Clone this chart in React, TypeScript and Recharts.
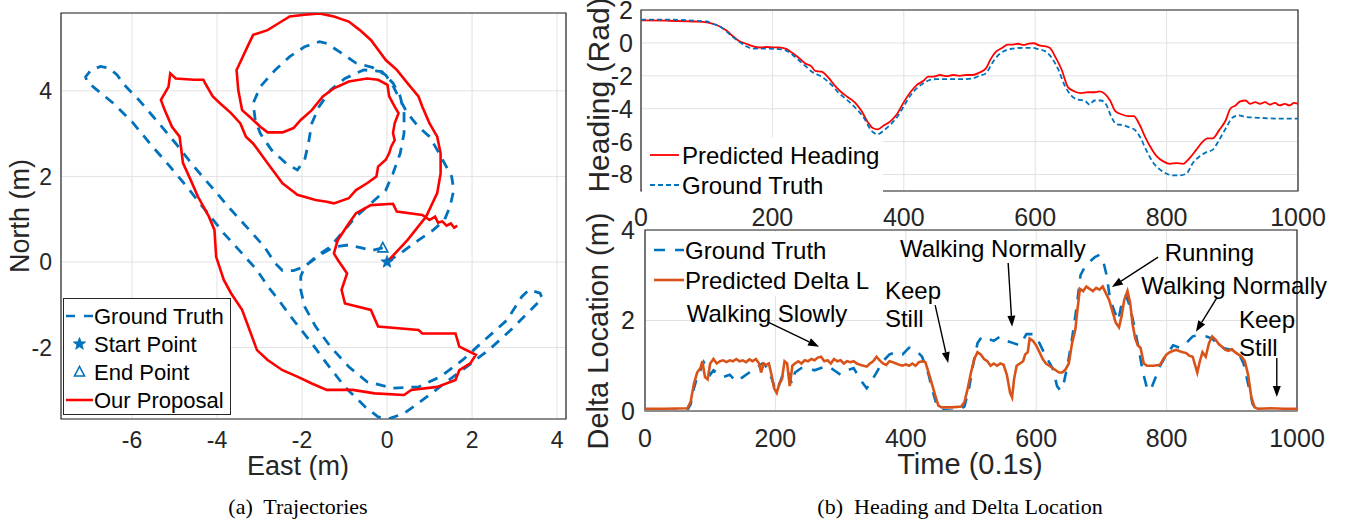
import React from "react";
import {
  ComposedChart,
  Line,
  Scatter,
  XAxis,
  YAxis,
  CartesianGrid,
  Legend,
  ReferenceArea,
  ReferenceLine,
  ReferenceDot,
  Label,
} from "recharts";

type Pair = [number, number];

// ---- (a) trajectories, east / north in metres ----
const groundTruthPath: Pair[] = [
  [0, 0], [0.31, 0.2], [0.74, 0.51], [1.09, 0.75], [1.35, 0.98], [1.48, 1.29], [1.57, 1.68],
  [1.52, 2.0], [1.35, 2.31], [1.18, 2.62], [1.0, 2.93], [0.74, 3.16], [0.48, 3.48], [0.3, 3.8],
  [0.15, 4.1], [-0.03, 4.37], [-0.35, 4.55], [-0.73, 4.65], [-1.07, 4.88], [-1.42, 5.11],
  [-1.59, 5.15], [-1.94, 5.03], [-2.29, 4.8], [-2.63, 4.49], [-2.98, 4.1], [-3.15, 3.71],
  [-3.1, 3.32], [-2.98, 3.0], [-2.72, 2.62], [-2.37, 2.3], [-2.11, 2.15], [-1.94, 2.38],
  [-1.85, 2.77], [-1.77, 3.24], [-1.6, 3.63], [-1.33, 4.02], [-0.99, 4.29], [-0.55, 4.49],
  [-0.12, 4.45], [0.14, 4.18], [0.31, 3.87], [0.4, 3.48], [0.4, 3.01], [0.31, 2.54],
  [0.14, 2.07], [-0.03, 1.68], [-0.38, 1.37], [-0.73, 1.06], [-1.07, 0.67], [-1.33, 0.36],
  [-1.68, 0.12], [-1.94, -0.11], [-2.03, -0.34], [-2.03, -0.65], [-1.94, -1.04], [-1.68, -1.51],
  [-1.33, -1.98], [-0.9, -2.45], [-0.47, -2.8], [0.14, -2.95], [0.74, -2.92], [1.26, -2.68],
  [1.78, -2.29], [2.3, -1.82], [2.82, -1.36], [3.17, -0.81], [3.34, -0.65], [3.6, -0.73],
  [3.65, -0.85], [3.34, -1.16], [2.91, -1.59], [2.39, -2.06], [1.87, -2.45], [1.35, -2.84],
  [0.83, -3.23], [0.4, -3.54], [0.05, -3.66], [-0.21, -3.62], [-0.5, -3.4], [-0.99, -2.92],
  [-1.42, -2.37], [-1.77, -1.9], [-2.2, -1.36], [-2.55, -0.89], [-2.81, -0.56], [-3.06, -0.19],
  [-3.41, 0.2], [-3.84, 0.67], [-4.28, 1.22], [-4.71, 1.76], [-5.14, 2.27], [-5.58, 2.77],
  [-6.0, 3.28], [-6.44, 3.71], [-6.87, 4.06], [-7.06, 4.22], [-7.09, 4.33], [-6.96, 4.49],
  [-6.74, 4.57], [-6.53, 4.53], [-6.35, 4.37], [-6.18, 4.14], [-5.84, 3.79], [-5.4, 3.28],
  [-4.97, 2.77], [-4.54, 2.23], [-4.1, 1.72], [-3.67, 1.22], [-3.24, 0.75], [-2.89, 0.36],
  [-2.63, -0.03], [-2.46, -0.2], [-2.2, -0.2], [-1.94, -0.11], [-1.6, 0.15], [-1.25, 0.35],
  [-0.9, 0.4], [-0.6, 0.33], [-0.35, 0.27], [-0.1, 0.33],
];

const proposalPath: Pair[] = [
  [0, 0], [0.48, 0.51], [0.92, 1.06], [1.18, 1.61], [1.26, 2.07], [1.26, 2.54], [1.18, 2.93],
  [1.0, 3.24], [0.83, 3.63], [0.74, 3.87], [0.48, 4.18], [0.23, 4.49], [-0.03, 4.72],
  [-0.38, 5.19], [-0.64, 5.42], [-0.9, 5.62], [-1.25, 5.74], [-1.59, 5.81], [-1.94, 5.78],
  [-2.29, 5.74], [-2.55, 5.58], [-2.81, 5.42], [-3.15, 5.31], [-3.28, 5.04], [-3.5, 4.57],
  [-3.54, 4.49], [-3.5, 4.02], [-3.41, 3.55], [-3.24, 3.4], [-2.98, 3.16], [-2.81, 3.03],
  [-2.46, 3.03], [-2.2, 3.13], [-2.03, 3.32], [-1.77, 3.55], [-1.51, 3.87], [-1.25, 4.06],
  [-0.9, 4.22], [-0.47, 4.29], [-0.21, 4.26], [0.01, 4.14], [0.05, 3.87], [0.18, 3.63],
  [0.27, 3.48], [0.18, 3.24], [0.14, 3.01], [0.18, 2.85], [0.1, 2.7], [0.05, 2.54],
  [-0.03, 2.39], [-0.21, 2.23], [-0.25, 2.0], [-0.47, 1.84], [-0.73, 1.68], [-0.9, 1.49],
  [-1.25, 1.37], [-1.42, 1.41], [-1.68, 1.45], [-2.11, 1.57], [-2.2, 1.64], [-2.46, 1.84],
  [-2.63, 2.07], [-2.81, 2.31], [-2.98, 2.54], [-3.15, 2.77], [-3.32, 2.93], [-3.45, 3.24],
  [-3.67, 3.48], [-3.93, 3.71], [-4.1, 3.87], [-4.28, 4.18], [-4.32, 4.26], [-4.54, 4.26],
  [-4.97, 4.29], [-5.1, 4.41], [-5.14, 4.1], [-5.23, 3.94], [-5.32, 3.79], [-5.23, 3.55],
  [-5.06, 3.16], [-4.88, 2.93], [-4.8, 2.31], [-4.62, 1.92], [-4.45, 1.53], [-4.19, 1.06],
  [-4.06, 0.75], [-4.02, 0.12], [-3.84, -0.42], [-3.67, -0.73], [-3.41, -1.12], [-3.06, -2.06],
  [-2.81, -2.29], [-2.46, -2.53], [-2.11, -2.68], [-1.77, -2.84], [-1.42, -2.99], [-0.81, -2.99],
  [-0.29, -3.07], [0.4, -3.11], [0.57, -2.99], [1.18, -2.92], [1.61, -2.76], [1.7, -2.53],
  [1.96, -2.37], [2.09, -2.17], [1.7, -1.98], [1.61, -1.67], [0.83, -1.67], [0.74, -1.59],
  [-0.21, -1.51], [-0.38, -1.12], [-0.99, -0.97], [-1.07, -0.65], [-0.94, -0.27], [-1.16, 0.05],
  [-1.25, 0.2], [-1.16, 0.51], [-0.9, 0.9], [-0.73, 1.14], [-0.38, 1.33], [0.14, 1.36],
  [0.23, 1.18], [0.83, 1.1], [1.0, 0.98], [1.13, 1.06], [1.2, 0.92], [1.3, 0.95], [1.4, 0.85],
  [1.5, 0.9], [1.58, 0.8], [1.65, 0.85],
];

const startPoint: Pair = [0, 0];
const endPoint: Pair = [-0.1, 0.33];

const eastTicks = [-6, -4, -2, 0, 2, 4];
const northTicks = [-2, 0, 2, 4];

// ---- (b) heading (rad) over time (0.1 s) ----
const headingPredicted: Pair[] = [
  [0, 1.37], [40, 1.35], [80, 1.3], [100, 1.25], [110, 1.15], [120, 1.0], [130, 0.75], [140, 0.4],
  [150, 0.1], [160, -0.05], [170, -0.2], [180, -0.28], [190, -0.25], [200, -0.27], [210, -0.28],
  [220, -0.35], [230, -0.6], [240, -0.9], [250, -1.25], [260, -1.45], [265, -1.7], [275, -1.75],
  [285, -2.1], [295, -2.6], [305, -3.0], [315, -3.3], [325, -3.6], [335, -4.1], [345, -4.8],
  [352, -5.15], [360, -5.25], [370, -5.0], [380, -4.75], [390, -4.3], [400, -3.6], [410, -3.0],
  [420, -2.55], [430, -2.3], [437, -2.05], [445, -2.05], [455, -1.95], [465, -2.02], [475, -1.95],
  [485, -2.0], [495, -1.95], [505, -1.95], [515, -1.8], [525, -1.55], [532, -1.0], [540, -0.55],
  [550, -0.3], [558, -0.1], [566, -0.1], [574, -0.05], [582, -0.12], [590, -0.05], [598, -0.02],
  [606, -0.15], [614, -0.2], [622, -0.3], [630, -0.8], [640, -1.6], [650, -2.7], [660, -2.95],
  [670, -3.05], [680, -3.0], [690, -3.0], [698, -2.95], [706, -3.1], [714, -3.5], [722, -4.15],
  [732, -4.35], [742, -4.45], [750, -4.45], [758, -4.9], [766, -5.6], [775, -6.3], [785, -6.9],
  [795, -7.2], [805, -7.35], [815, -7.3], [825, -7.35], [835, -7.0], [845, -6.5], [855, -6.0],
  [862, -5.8], [870, -5.8], [880, -5.3], [890, -4.7], [897, -4.0], [905, -3.8], [912, -3.55],
  [920, -3.5], [927, -3.7], [935, -3.6], [942, -3.7], [950, -3.6], [957, -3.75], [965, -3.65],
  [972, -3.8], [980, -3.7], [987, -3.8], [994, -3.65], [1000, -3.7],
];

const headingTruth: Pair[] = [
  [0, 1.42], [40, 1.42], [80, 1.35], [100, 1.3], [110, 1.15], [120, 1.0], [130, 0.7], [140, 0.35],
  [150, 0.05], [160, -0.2], [170, -0.35], [190, -0.35], [210, -0.38], [220, -0.45], [230, -0.7],
  [240, -1.05], [250, -1.4], [260, -1.75], [270, -1.95], [280, -2.2], [290, -2.55], [300, -3.0],
  [310, -3.35], [320, -3.7], [330, -4.1], [340, -4.6], [350, -5.3], [360, -5.55], [370, -5.3],
  [380, -4.95], [390, -4.5], [400, -3.85], [410, -3.2], [420, -2.75], [430, -2.45], [440, -2.25],
  [450, -2.2], [470, -2.2], [490, -2.2], [505, -2.15], [515, -2.0], [525, -1.85], [535, -1.2],
  [545, -0.7], [555, -0.45], [565, -0.35], [580, -0.3], [595, -0.3], [605, -0.38], [615, -0.5],
  [625, -0.9], [635, -1.6], [645, -2.6], [655, -3.2], [665, -3.45], [675, -3.5], [683, -3.75],
  [690, -3.5], [700, -3.5], [708, -3.75], [716, -4.5], [724, -4.95], [734, -5.0], [744, -5.15],
  [752, -5.3], [760, -5.75], [770, -6.6], [780, -7.3], [790, -7.7], [800, -7.95], [810, -8.05],
  [820, -8.05], [830, -7.95], [840, -7.3], [850, -6.9], [860, -6.65], [870, -6.5], [880, -5.9],
  [890, -5.2], [900, -4.55], [910, -4.4], [920, -4.5], [940, -4.55], [970, -4.6], [1000, -4.6],
];

// ---- (b) delta location (m) over time (0.1 s) ----
const deltaTruth: Pair[] = [
  [0, 0.0], [40, 0.0], [65, 0.02], [70, 0.15], [75, 0.5], [80, 0.75], [85, 0.9], [90, 1.08],
  [95, 0.95], [100, 0.8], [105, 0.9], [110, 0.85], [115, 0.8], [120, 0.75], [130, 0.8],
  [140, 0.65], [150, 0.75], [160, 0.85], [170, 0.95], [180, 1.05], [185, 1.0], [190, 0.85],
  [195, 0.7], [200, 0.45], [205, 0.55], [210, 0.75], [215, 0.9], [220, 0.85], [225, 0.6],
  [230, 0.85], [240, 0.95], [250, 0.95], [260, 0.9], [270, 0.95], [280, 1.0], [290, 0.9],
  [300, 0.8], [310, 0.9], [320, 0.95], [330, 0.7], [340, 0.5], [345, 0.6], [355, 0.85],
  [365, 1.1], [375, 1.25], [385, 1.3], [395, 1.25], [405, 1.4], [415, 1.35], [425, 1.2],
  [430, 1.0], [435, 0.8], [440, 0.5], [447, 0.15], [455, 0.02], [480, 0.0], [490, 0.1],
  [497, 0.5], [503, 1.0], [510, 1.5], [517, 1.65], [525, 1.6], [535, 1.55], [545, 1.65],
  [555, 1.55], [565, 1.5], [575, 1.45], [585, 1.7], [595, 1.7], [605, 1.5], [615, 1.2],
  [625, 0.95], [632, 0.55], [637, 0.45], [642, 0.6], [648, 1.0], [655, 1.6], [662, 2.3],
  [668, 3.0], [675, 3.2], [682, 3.3], [690, 3.4], [697, 3.45], [703, 3.3], [708, 3.0],
  [713, 2.5], [720, 2.2], [726, 2.0], [732, 2.45], [738, 2.55], [744, 2.3], [750, 1.9],
  [757, 1.4], [763, 0.9], [770, 0.5], [775, 0.45], [782, 0.7], [790, 1.0], [800, 1.25],
  [810, 1.45], [820, 1.4], [830, 1.5], [840, 1.65], [850, 1.68], [860, 1.65], [870, 1.6],
  [880, 1.45], [890, 1.38], [900, 1.35], [910, 1.3], [918, 1.05], [925, 0.6], [932, 0.15],
  [940, 0.0], [1000, 0.0],
];

const deltaPredicted: Pair[] = [
  [0, 0.05], [30, 0.05], [65, 0.06], [70, 0.2], [75, 0.6], [80, 0.85], [85, 0.95], [88, 1.1],
  [92, 0.75], [96, 0.7], [100, 1.05], [105, 1.15], [110, 1.05], [115, 1.1], [120, 1.12],
  [125, 1.08], [130, 1.12], [135, 1.1], [140, 1.15], [145, 1.1], [150, 1.12], [155, 1.08],
  [160, 1.14], [165, 1.1], [170, 1.15], [175, 1.05], [178, 0.85], [182, 1.05], [186, 1.02],
  [190, 1.05], [194, 0.8], [198, 0.5], [202, 0.4], [206, 0.6], [210, 0.7], [214, 1.1],
  [218, 1.05], [222, 0.55], [226, 1.0], [230, 1.05], [235, 1.1], [240, 1.05], [245, 1.12],
  [250, 1.1], [255, 1.15], [260, 1.12], [265, 1.18], [270, 1.2], [275, 1.1], [280, 1.12],
  [285, 1.05], [290, 1.15], [295, 1.1], [300, 1.12], [305, 1.05], [310, 1.1], [315, 1.08],
  [320, 1.1], [325, 1.05], [330, 1.02], [335, 1.0], [340, 0.98], [345, 1.05], [350, 1.1],
  [355, 1.2], [360, 1.12], [365, 1.05], [370, 1.02], [375, 1.1], [380, 1.08], [385, 1.05],
  [390, 1.02], [395, 1.0], [400, 1.03], [405, 1.0], [410, 1.05], [415, 1.0], [420, 1.08],
  [425, 1.1], [430, 1.08], [435, 0.85], [440, 0.6], [445, 0.35], [450, 0.12], [455, 0.08],
  [470, 0.08], [485, 0.1], [490, 0.2], [495, 0.5], [500, 0.85], [505, 1.15], [510, 1.3],
  [515, 1.25], [520, 1.15], [525, 1.1], [530, 1.0], [535, 1.05], [540, 1.0], [545, 1.05],
  [550, 1.02], [555, 0.8], [560, 0.4], [563, 0.3], [566, 0.7], [570, 1.0], [575, 1.05],
  [580, 1.1], [583, 1.25], [587, 1.3], [590, 1.6], [595, 1.55], [600, 1.45], [605, 1.3],
  [610, 1.15], [615, 1.05], [620, 1.0], [625, 0.95], [630, 0.9], [635, 0.85], [640, 0.85],
  [645, 0.92], [650, 1.05], [655, 1.5], [660, 1.8], [663, 2.2], [667, 2.7], [672, 2.65],
  [677, 2.75], [682, 2.7], [687, 2.65], [692, 2.72], [697, 2.68], [702, 2.75], [707, 2.6],
  [712, 2.45], [717, 2.2], [722, 1.95], [727, 1.85], [731, 2.1], [735, 2.45], [740, 2.65],
  [744, 2.4], [748, 1.9], [752, 1.6], [756, 1.45], [760, 1.4], [765, 1.05], [770, 1.0],
  [780, 1.0], [790, 1.02], [795, 1.15], [800, 1.25], [805, 1.3], [810, 1.33], [815, 1.35],
  [820, 1.32], [825, 1.3], [830, 1.28], [835, 1.22], [840, 1.2], [843, 1.05], [847, 0.85],
  [851, 1.1], [855, 1.3], [860, 1.2], [865, 1.5], [870, 1.65], [875, 1.58], [880, 1.48],
  [885, 1.42], [890, 1.35], [895, 1.33], [900, 1.37], [905, 1.3], [910, 1.25], [915, 1.2],
  [920, 1.1], [925, 0.8], [930, 0.3], [935, 0.08], [940, 0.05], [960, 0.06], [980, 0.05],
  [1000, 0.05],
];

const timeTicks = [0, 200, 400, 600, 800, 1000];
const headingTicks = [-8, -6, -4, -2, 0, 2];
const deltaTicks = [0, 2, 4];

// activity notes: text lines, text position, arrow tail -> head (time, metres)
type Note = { lines: string[]; at: Pair; anchor: "start" | "middle"; from: Pair; to: Pair };
const activityNotes: Note[] = [
  { lines: ["Walking Slowly"], at: [64, 2.17], anchor: "start", from: [188, 1.97], to: [267, 1.42] },
  { lines: ["Keep", "Still"], at: [368, 2.68], anchor: "start", from: [445, 2.34], to: [465, 1.06] },
  { lines: ["Walking Normally"], at: [391, 3.6], anchor: "start", from: [557, 3.27], to: [563, 1.86] },
  { lines: ["Running"], at: [797, 3.52], anchor: "start", from: [787, 3.4], to: [716, 2.74] },
  { lines: ["Walking Normally"], at: [761, 2.79], anchor: "start", from: [877, 2.5], to: [845, 1.75] },
  { lines: ["Keep", "Still"], at: [911, 2.04], anchor: "start", from: [969, 1.17], to: [969, 0.31] },
];

const BLUE = "#0072BD";
const RED = "#FF0000";
const ORANGE = "#D95319";
const INK = "#262626";
const GRID = "#e2e2e2";
const FONT = "'Liberation Sans', Arial, Helvetica, sans-serif";
const SERIF = "'Liberation Serif', 'Times New Roman', serif";

const toXY = (rows: Pair[]) => rows.map(([x, y]) => ({ x, y }));

const starPoints = (cx: number, cy: number, r: number) => {
  const pts: string[] = [];
  for (let i = 0; i < 10; i++) {
    const rad = i % 2 === 0 ? r : r * 0.42;
    const a = -Math.PI / 2 + (i * Math.PI) / 5;
    pts.push(`${cx + rad * Math.cos(a)},${cy + rad * Math.sin(a)}`);
  }
  return pts.join(" ");
};

const StarMark = (p: any) => <polygon points={starPoints(p.cx, p.cy, 6.5)} fill={BLUE} stroke={BLUE} strokeWidth={0.8} />;

const TriangleMark = (p: any) => (
  <polygon
    points={`${p.cx},${p.cy - 5.5} ${p.cx - 5},${p.cy + 4} ${p.cx + 5},${p.cy + 4}`}
    fill="none"
    stroke={BLUE}
    strokeWidth={1.6}
  />
);

const ArrowShape = (p: any) => {
  const { x1, y1, x2, y2 } = p;
  const ang = Math.atan2(y2 - y1, x2 - x1);
  const len = 11;
  const half = 4;
  const bx = x2 - len * Math.cos(ang);
  const by = y2 - len * Math.sin(ang);
  const nx = -Math.sin(ang);
  const ny = Math.cos(ang);
  return (
    <g>
      <line x1={x1} y1={y1} x2={bx} y2={by} stroke="#000" strokeWidth={1.4} />
      <polygon points={`${x2},${y2} ${bx + half * nx},${by + half * ny} ${bx - half * nx},${by - half * ny}`} fill="#000" />
    </g>
  );
};

const noteText = (lines: string[], anchor: string) => (p: any) => (
  <text x={p.cx} y={p.cy} textAnchor={anchor} fontSize={24} fill="#000" dominantBaseline="central">
    {lines.map((t, i) => (
      <tspan key={i} x={p.cx} dy={i === 0 ? 0 : 28}>
        {t}
      </tspan>
    ))}
  </text>
);

const titleAt = (text: string, x: number, y: number, size: number, vertical = false) => () => (
  <text
    x={x}
    y={y}
    textAnchor="middle"
    dominantBaseline="central"
    fontSize={size}
    fill={INK}
    transform={vertical ? `rotate(-90 ${x} ${y})` : undefined}
  >
    {text}
  </text>
);

type Swatch = { label: string; kind: "line" | "star" | "triangle"; color: string; dash?: string; width?: number };

const LegendBox = ({ items, rowGap, firstRow, textX, lineFrom, lineTo, fontSize, border }: any) => (
  <div
    style={{
      width: "100%",
      height: "100%",
      boxSizing: "border-box",
      border: border ? `1px solid ${INK}` : "none",
      background: "#fff",
      position: "relative",
    }}
  >
    <svg width="100%" height="100%" style={{ position: "absolute", left: 0, top: 0, overflow: "visible" }}>
      {items.map((it: Swatch, i: number) => {
        const cy = firstRow + i * rowGap;
        const mid = (lineFrom + lineTo) / 2;
        return (
          <g key={it.label}>
            {it.kind === "line" && (
              <line
                x1={lineFrom}
                x2={lineTo}
                y1={cy}
                y2={cy}
                stroke={it.color}
                strokeWidth={it.width ?? 2.5}
                strokeDasharray={it.dash}
              />
            )}
            {it.kind === "star" && <StarMark cx={mid} cy={cy} />}
            {it.kind === "triangle" && <TriangleMark cx={mid} cy={cy} />}
            <text x={textX} y={cy} dominantBaseline="central" fontSize={fontSize} fill="#000" fontFamily={FONT}>
              {it.label}
            </text>
          </g>
        );
      })}
    </svg>
  </div>
);

const trajectoryLegend: Swatch[] = [
  { label: "Ground Truth", kind: "line", color: BLUE, dash: "9 9" },
  { label: "Start Point", kind: "star", color: BLUE },
  { label: "End Point", kind: "triangle", color: BLUE },
  { label: "Our Proposal", kind: "line", color: RED },
];

const headingLegend: Swatch[] = [
  { label: "Predicted Heading", kind: "line", color: RED, width: 1.8 },
  { label: "Ground Truth", kind: "line", color: BLUE, dash: "5 3", width: 1.8 },
];

const deltaLegend: Swatch[] = [
  { label: "Ground Truth", kind: "line", color: BLUE, dash: "11 10", width: 2.6 },
  { label: "Predicted Delta L", kind: "line", color: ORANGE, width: 2.6 },
];

const tickStyle = (size: number) => ({ fontSize: size, fill: INK, fontFamily: FONT });

function TrajectoryChart() {
  return (
    <ComposedChart width={580} height={480} margin={{ top: 13, right: 14, bottom: 0, left: 0 }}>
      <CartesianGrid stroke={GRID} strokeWidth={1} />
      <XAxis
        type="number"
        dataKey="x"
        domain={[-7.67, 4.21]}
        ticks={eastTicks}
        interval={0}
        allowDataOverflow
        height={61}
        tickLine={false}
        tickSize={0}
        tickMargin={13}
        axisLine={false}
        tick={tickStyle(23)}
      >
        <Label content={titleAt("East (m)", 298, 466, 27)} />
      </XAxis>
      <YAxis
        type="number"
        dataKey="y"
        domain={[-3.67, 5.82]}
        ticks={northTicks}
        interval={0}
        allowDataOverflow
        width={61}
        tickLine={false}
        tickSize={0}
        tickMargin={9}
        axisLine={false}
        tick={tickStyle(23)}
      >
        <Label content={titleAt("North (m)", 20, 216, 27, true)} />
      </YAxis>
      <ReferenceArea x1={-7.67} x2={4.21} y1={-3.67} y2={5.82} fill="none" stroke={INK} strokeWidth={1.2} />
      <Line
        data={toXY(groundTruthPath)}
        dataKey="y"
        type="linear"
        stroke={BLUE}
        strokeWidth={2.8}
        strokeDasharray="10 8"
        dot={false}
        activeDot={false}
        isAnimationActive={false}
      />
      <Scatter data={toXY([startPoint])} dataKey="y" shape={StarMark} isAnimationActive={false} />
      <Scatter data={toXY([endPoint])} dataKey="y" shape={TriangleMark} isAnimationActive={false} />
      <Line
        data={toXY(proposalPath)}
        dataKey="y"
        type="linear"
        stroke={RED}
        strokeWidth={2.6}
        dot={false}
        activeDot={false}
        isAnimationActive={false}
      />
      <Legend
        layout="vertical"
        align="center"
        verticalAlign="middle"
        wrapperStyle={{ left: 63, top: 298, width: 168, height: 117, right: "auto", bottom: "auto" }}
        content={() => (
          <LegendBox items={trajectoryLegend} rowGap={28} firstRow={17} textX={30} lineFrom={2} lineTo={29} fontSize={22} border />
        )}
      />
    </ComposedChart>
  );
}

function HeadingChart() {
  return (
    <ComposedChart width={766} height={231} margin={{ top: 10, right: 48, bottom: 0, left: 0 }}>
      <CartesianGrid stroke={GRID} strokeWidth={1} />
      <XAxis
        type="number"
        dataKey="x"
        domain={[0, 1000]}
        ticks={timeTicks}
        interval={0}
        allowDataOverflow
        height={40}
        tickLine={false}
        tickSize={0}
        tickMargin={17}
        axisLine={false}
        tick={tickStyle(25)}
      />
      <YAxis
        type="number"
        dataKey="y"
        domain={[-9, 2]}
        ticks={headingTicks}
        interval={0}
        allowDataOverflow
        width={61}
        tickLine={false}
        tickSize={0}
        tickMargin={8}
        axisLine={false}
        tick={tickStyle(25)}
      >
        <Label content={titleAt("Heading (Rad)", 18, 95, 30, true)} />
      </YAxis>
      <ReferenceArea x1={0} x2={1000} y1={-9} y2={2} fill="none" stroke={INK} strokeWidth={1.2} />
      <Line
        data={toXY(headingPredicted)}
        dataKey="y"
        type="monotone"
        stroke={RED}
        strokeWidth={1.8}
        dot={false}
        activeDot={false}
        isAnimationActive={false}
      />
      <Line
        data={toXY(headingTruth)}
        dataKey="y"
        type="monotone"
        stroke={BLUE}
        strokeWidth={1.8}
        strokeDasharray="5 3"
        dot={false}
        activeDot={false}
        isAnimationActive={false}
      />
      <Legend
        layout="vertical"
        align="center"
        verticalAlign="middle"
        wrapperStyle={{ left: 62, top: 137, width: 241, height: 60, right: "auto", bottom: "auto" }}
        content={() => (
          <LegendBox items={headingLegend} rowGap={30} firstRow={18} textX={40} lineFrom={8} lineTo={37} fontSize={24} />
        )}
      />
    </ComposedChart>
  );
}

function DeltaChart() {
  return (
    <ComposedChart width={766} height={300} margin={{ top: 30, right: 49, bottom: 0, left: 0 }}>
      <CartesianGrid stroke={GRID} strokeWidth={1} />
      <XAxis
        type="number"
        dataKey="x"
        domain={[0, 1000]}
        ticks={timeTicks}
        interval={0}
        allowDataOverflow
        height={89}
        tickLine={false}
        tickSize={0}
        tickMargin={18}
        axisLine={false}
        tick={tickStyle(25)}
      >
        <Label content={titleAt("Time (0.1s)", 390, 264, 29)} />
      </XAxis>
      <YAxis
        type="number"
        dataKey="y"
        domain={[0, 4]}
        ticks={deltaTicks}
        interval={0}
        allowDataOverflow
        width={65}
        tickLine={false}
        tickSize={0}
        tickMargin={10}
        axisLine={false}
        tick={tickStyle(25)}
      >
        <Label content={titleAt("Delta Location (m)", 18, 131, 29, true)} />
      </YAxis>
      <ReferenceArea x1={0} x2={1000} y1={0} y2={4} fill="none" stroke={INK} strokeWidth={1.2} />
      <Legend
        layout="vertical"
        align="center"
        verticalAlign="middle"
        wrapperStyle={{ left: 66, top: 32, width: 236, height: 64, right: "auto", bottom: "auto" }}
        content={() => (
          <LegendBox items={deltaLegend} rowGap={30} firstRow={18} textX={39} lineFrom={8} lineTo={38} fontSize={24} />
        )}
      />
      <Line
        data={toXY(deltaTruth)}
        dataKey="y"
        type="linear"
        stroke={BLUE}
        strokeWidth={2.6}
        strokeDasharray="11 10"
        dot={false}
        activeDot={false}
        isAnimationActive={false}
      />
      <Line
        data={toXY(deltaPredicted)}
        dataKey="y"
        type="linear"
        stroke={ORANGE}
        strokeWidth={2.6}
        dot={false}
        activeDot={false}
        isAnimationActive={false}
      />
      <ReferenceLine y={0} stroke="#8c8c8c" strokeWidth={2.2} />
      {activityNotes.map((n, i) => (
        <ReferenceLine
          key={`arrow-${i}`}
          segment={[
            { x: n.from[0], y: n.from[1] },
            { x: n.to[0], y: n.to[1] },
          ]}
          shape={ArrowShape}
        />
      ))}
      {activityNotes.map((n, i) => (
        <ReferenceDot key={`note-${i}`} x={n.at[0]} y={n.at[1]} r={0} shape={noteText(n.lines, n.anchor)} />
      ))}
    </ComposedChart>
  );
}

const captionStyle = (left: number, width: number): React.CSSProperties => ({
  position: "absolute",
  left,
  top: 494,
  width,
  textAlign: "center",
  fontFamily: SERIF,
  fontSize: 22,
  whiteSpace: "pre",
});

export default function App() {
  return (
    <div
      style={{
        position: "absolute",
        left: 0,
        top: 0,
        width: 1346,
        height: 525,
        background: "#fff",
        fontFamily: FONT,
        overflow: "hidden",
      }}
    >
      <div style={{ position: "absolute", left: 0, top: 0 }}>
        <TrajectoryChart />
      </div>
      <div style={{ position: "absolute", left: 580, top: 0 }}>
        <HeadingChart />
      </div>
      <div style={{ position: "absolute", left: 580, top: 200 }}>
        <DeltaChart />
      </div>
      <div style={captionStyle(198, 200)}>{"(a)  Trajectories"}</div>
      <div style={captionStyle(790, 340)}>{"(b)  Heading and Delta Location"}</div>
    </div>
  );
}
